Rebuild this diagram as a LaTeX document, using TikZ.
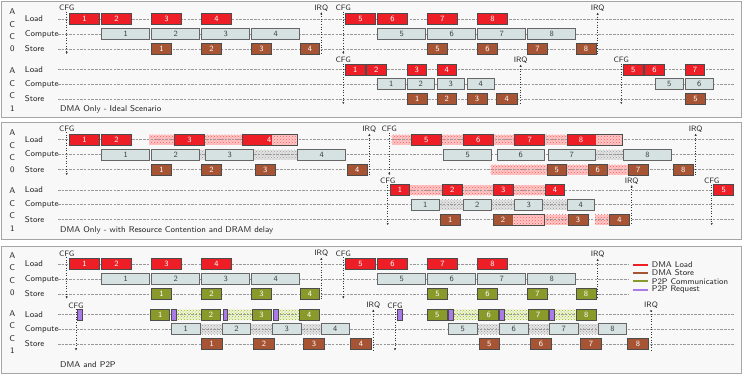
\documentclass[tikz,border=0pt]{standalone}
\usepackage{fontspec}
\usetikzlibrary{patterns,arrows.meta}
\definecolor{ldred}{RGB}{238,30,38}
\definecolor{cpfill}{RGB}{214,226,226}
\definecolor{stbrown}{RGB}{166,84,52}
\definecolor{ptgreen}{RGB}{138,154,42}
\definecolor{ptpurple}{RGB}{170,122,232}
\definecolor{panelbg}{RGB}{248,248,248}
\definecolor{panelbd}{RGB}{165,165,165}
\tikzset{
  lbl/.style={font=\fontsize{8}{8}\selectfont\sffamily, inner sep=0pt},
  box/.style={lbl, draw=black!70, line width=0.7pt, minimum height=11pt},
  frame/.style={draw=black!70, line width=0.7pt, minimum height=11pt, inner sep=0pt},
  ld/.style={box, fill=ldred, text=white},
  cp/.style={box, fill=cpfill, text=black!75, draw=black!60},
  st/.style={box, fill=stbrown, text=white},
  gr/.style={box, fill=ptgreen, text=white},
  pr/.style={box, fill=ptpurple},
  hr/.style={fill=red!22, postaction={pattern=crosshatch dots, pattern color=red!65}},
  hg/.style={fill=gray!22, postaction={pattern=crosshatch dots, pattern color=gray!75}},
  hy/.style={fill=yellow!40!green!15, postaction={pattern=crosshatch dots, pattern color=olive!60}},
  rowline/.style={gray!80, dash pattern=on 2.5pt off 1.2pt, line width=0.5pt},
  evt/.style={font=\fontsize{7.8}{8}\selectfont\sffamily, inner sep=0.8pt, text=black!85},
  cfgline/.style={dotted, line width=0.6pt, black!80, -{Stealth[length=2.2pt,width=2.2pt]}},
  irqline/.style={dotted, line width=0.6pt, black!80, {Stealth[length=2.2pt,width=2.2pt]}-},
  panel/.style={fill=panelbg, draw=panelbd, line width=0.9pt},
  acc/.style={align=center, font=\fontsize{8.4}{12.4}\selectfont\sffamily, inner sep=0pt, text=black!85},
  rl/.style={anchor=west, font=\fontsize{8.4}{9}\selectfont\sffamily, inner sep=0pt, text=black!85},
  ttl/.style={anchor=west, font=\fontsize{8.4}{9}\selectfont\sffamily, inner sep=0pt, text=black!85},
  lg/.style={anchor=west, font=\fontsize{8.3}{9}\selectfont\sffamily, inner sep=0pt, text=black!85},
  lgline/.style={line width=1.8pt},
}
\newcommand\Bx[6]{\pgfmathsetmacro\bw{#4-#3}\node[#1,minimum width=\bw pt,anchor=west] (#2) at (#3,#5) {#6};}
\newcommand\Hz[4]{\fill[#1] (#2,#4-5) rectangle (#3,#4+5);}
\newcommand\Mx[9]{%
  \fill[#2] (#5,#7-5.5) rectangle (#6,#7+5.5);
  \fill[#1] (#4,#7-5.5) rectangle (#5,#7+5.5);
  \pgfmathsetmacro\bw{#6-#4}%
  \node[frame,minimum width=\bw pt,anchor=west] (#3) at (#4,#7) {};
  \node[lbl,text=white] (#3t) at (#8,#7) {#9};}
\newcommand\EvC[5]{\node[evt] (#1) at (#2,#3) {CFG}; \coordinate (#1e) at (#2,#4); \draw[cfgline] (#1) -- (#1e);}
\newcommand\EvI[5]{\node[evt] (#1) at (#2,#3) {IRQ}; \coordinate (#1e) at (#2,#4); \draw[irqline] (#1) -- (#1e);}
\begin{document}
\begin{tikzpicture}[x=1pt,y=-1pt]
\useasboundingbox (0,0) rectangle (747,375);
\draw[panel] (1,1) rectangle (741,117.5);
\draw[panel] (1,122.5) rectangle (741,239);
\draw[panel] (1,246) rectangle (741,373.5);

% ================= PANEL 1 =================
\begin{scope}
\node[acc] (aA0) at (12.3,30.5) {A\\C\\C\\0};
\node[acc] (aA1) at (12.3,89.5) {A\\C\\C\\1};
\node[rl] (aR1) at (24.7,19) {Load};
\node[rl] (aR2) at (24.7,34) {Compute};
\node[rl] (aR3) at (24.7,49) {Store};
\node[rl] (aR4) at (24.7,69.5) {Load};
\node[rl] (aR5) at (24.7,84) {Compute};
\node[rl] (aR6) at (24.7,99) {Store};
\node[ttl] (aT) at (60,109) {DMA Only - Ideal Scenario};
\foreach \yy in {19,34,49,69.5,84,99} \draw[rowline] (58,\yy) -- (735,\yy);
% ACC0
\Bx{ld}{aL1}{69.3}{99}{19}{1}
\Bx{ld}{aL2}{101.3}{131}{19}{2}
\Bx{ld}{aL3}{151.3}{181}{19}{3}
\Bx{ld}{aL4}{201.3}{231}{19}{4}
\Bx{ld}{aL5}{345.3}{375}{19}{5}
\Bx{ld}{aL6}{377.3}{407}{19}{6}
\Bx{ld}{aL7}{427.3}{457}{19}{7}
\Bx{ld}{aL8}{477.3}{507}{19}{8}
\Bx{cp}{aC1}{101.3}{149.3}{34}{1}
\Bx{cp}{aC2}{151.3}{199.3}{34}{2}
\Bx{cp}{aC3}{201.3}{249.3}{34}{3}
\Bx{cp}{aC4}{251.3}{299.3}{34}{4}
\Bx{cp}{aC5}{377.3}{425.3}{34}{5}
\Bx{cp}{aC6}{427.3}{475.3}{34}{6}
\Bx{cp}{aC7}{477.3}{525.3}{34}{7}
\Bx{cp}{aC8}{527.3}{575.3}{34}{8}
\Bx{st}{aS1}{151.3}{171}{49}{1}
\Bx{st}{aS2}{201.3}{221}{49}{2}
\Bx{st}{aS3}{251.3}{271}{49}{3}
\Bx{st}{aS4}{299.8}{319.3}{49}{4}
\Bx{st}{aS5}{427.3}{447}{49}{5}
\Bx{st}{aS6}{477.3}{497}{49}{6}
\Bx{st}{aS7}{527.3}{547}{49}{7}
\Bx{st}{aS8}{576}{595.5}{49}{8}
\EvC{aF1}{66.7}{8}{54}{}
\EvI{aI1}{321.3}{8}{54}{}
\EvC{aF2}{343.3}{8}{54}{}
\EvI{aI2}{597.7}{8.5}{54}{}
% ACC1
\Bx{ld}{aM1}{345.3}{364.7}{69.5}{1}
\Bx{ld}{aM2}{366.3}{385.7}{69.5}{2}
\Bx{ld}{aM3}{406.7}{426}{69.5}{3}
\Bx{ld}{aM4}{436.7}{456}{69.5}{4}
\Bx{ld}{aM5}{623.3}{642.7}{69.5}{5}
\Bx{ld}{aM6}{644.3}{664}{69.5}{6}
\Bx{ld}{aM7}{685}{704.3}{69.5}{7}
\Bx{cp}{aD1}{377.3}{404.7}{84}{1}
\Bx{cp}{aD2}{406.7}{434.3}{84}{2}
\Bx{cp}{aD3}{436.7}{464.3}{84}{3}
\Bx{cp}{aD4}{466.7}{494.3}{84}{4}
\Bx{cp}{aD5}{655.3}{682.7}{84}{5}
\Bx{cp}{aD6}{685}{712.7}{84}{6}
\Bx{st}{aU1}{406.7}{427}{99}{1}
\Bx{st}{aU2}{436.7}{456.3}{99}{2}
\Bx{st}{aU3}{466.7}{486.7}{99}{3}
\Bx{st}{aU4}{496}{516.7}{99}{4}
\Bx{st}{aU5}{685}{705.3}{99}{5}
\EvC{aF3}{343.3}{60}{104}{}
\EvI{aI3}{520.7}{60.5}{104}{}
\EvC{aF4}{621.3}{60}{104}{}
\end{scope}

% ================= PANEL 2 =================
\begin{scope}[yshift=-120.5pt]
\node[acc] (bA0) at (12.3,31) {A\\C\\C\\0};
\node[acc] (bA1) at (12.3,89) {A\\C\\C\\1};
\node[rl] (bR1) at (24.7,19) {Load};
\node[rl] (bR2) at (24.7,34) {Compute};
\node[rl] (bR3) at (24.7,49) {Store};
\node[rl] (bR4) at (24.7,69.5) {Load};
\node[rl] (bR5) at (24.7,84) {Compute};
\node[rl] (bR6) at (24.7,99) {Store};
\node[ttl] (bT) at (60,110) {DMA Only - with Resource Contention and DRAM delay};
% hatches
\Hz{hr}{149.3}{174.3}{19}
\Hz{hr}{204}{241.7}{19}
\Hz{hr}{391.7}{411}{19}
\Hz{hr}{441}{462.7}{19}
\Hz{hr}{493.3}{514.3}{19}
\Hz{hr}{544.3}{566.7}{19}
\Hz{hg}{199.3}{205.3}{34}
\Hz{hg}{253.3}{297.3}{34}
\Hz{hg}{595}{623.3}{34}
\Hz{hr}{490.7}{546.7}{49}
\Hz{hr}{566}{587.7}{49}
\Hz{hr}{607.3}{628.3}{49}
\Hz{hr}{409.3}{442.3}{69.5}
\Hz{hr}{461.7}{493.3}{69.5}
\Hz{hr}{512.7}{545}{69.5}
\Hz{hg}{439}{463.3}{84}
\Hz{hg}{490.7}{514.3}{84}
\Hz{hg}{542.3}{566.7}{84}
\Hz{hr}{544.3}{567.7}{99}
\Hz{hr}{595}{609.3}{99}
\foreach \yy in {19,34,49,69.5,84,99} \draw[rowline] (58,\yy) -- (735,\yy);
% ACC0
\Bx{ld}{bL1}{69.3}{99}{19}{1}
\Bx{ld}{bL2}{101.3}{131}{19}{2}
\Bx{ld}{bL3}{174.3}{204}{19}{3}
\Mx{fill=ldred}{hr}{bL4}{241.7}{271.7}{296.7}{19}{269.3}{4}
\Bx{ld}{bL5}{411}{441}{19}{5}
\Bx{ld}{bL6}{462.7}{493.3}{19}{6}
\Bx{ld}{bL7}{514.3}{544.3}{19}{7}
\Mx{fill=ldred}{hr}{bL8}{566.7}{596}{621.7}{19}{581}{8}
\Bx{cp}{bC1}{101.3}{149.3}{34}{1}
\Bx{cp}{bC2}{151.3}{199.3}{34}{2}
\Bx{cp}{bC3}{205.3}{253.3}{34}{3}
\Bx{cp}{bC4}{297.3}{345.3}{34}{4}
\Bx{cp}{bC5}{443.3}{491.3}{34}{5}
\Bx{cp}{bC6}{496.7}{544.3}{34}{6}
\Bx{cp}{bC7}{547.7}{595}{34}{7}
\Bx{cp}{bC8}{623.3}{671}{34}{8}
\Bx{st}{bS1}{151.3}{171}{49}{1}
\Bx{st}{bS2}{201.3}{221}{49}{2}
\Bx{st}{bS3}{255.3}{274.7}{49}{3}
\Bx{st}{bS4}{347.3}{366.7}{49}{4}
\Bx{st}{bS5}{546.7}{566}{49}{5}
\Bx{st}{bS6}{587.7}{607.3}{49}{6}
\Bx{st}{bS7}{628.3}{647.7}{49}{7}
\Bx{st}{bS8}{673.3}{692.7}{49}{8}
\EvC{bF1}{66.7}{8}{54.5}{}
\EvI{bI1}{369.3}{9}{54.5}{}
\EvC{bF2}{389.3}{8.5}{54.5}{}
\EvI{bI2}{695.7}{9}{54.5}{}
% ACC1
\Bx{ld}{bM1}{390}{409.3}{69.5}{1}
\Bx{ld}{bM2}{442.3}{461.7}{69.5}{2}
\Bx{ld}{bM3}{493.3}{512.7}{69.5}{3}
\Bx{ld}{bM4}{545}{564.3}{69.5}{4}
\Bx{ld}{bM5}{713.3}{733.3}{69.5}{5}
\Bx{cp}{bD1}{411}{439}{84}{1}
\Bx{cp}{bD2}{463.3}{490.7}{84}{2}
\Bx{cp}{bD3}{514.3}{542.3}{84}{3}
\Bx{cp}{bD4}{566.7}{594.3}{84}{4}
\Bx{st}{bU1}{440}{460}{99}{1}
\Mx{fill=stbrown}{hr}{bU2}{492.7}{513.3}{544.3}{99}{503}{2}
\Bx{st}{bU3}{567.7}{587.7}{99}{3}
\Bx{st}{bU4}{609.3}{629}{99}{4}
\EvC{bF3}{387.7}{60.5}{104.5}{}
\EvI{bI3}{631.7}{60.5}{104.5}{}
\EvC{bF4}{711.7}{60.5}{104.5}{}
\end{scope}

% ================= PANEL 3 =================
\begin{scope}[yshift=-245pt]
\node[acc] (cA0) at (12.3,29) {A\\C\\C\\0};
\node[acc] (cA1) at (12.3,87) {A\\C\\C\\1};
\node[rl] (cR1) at (24.7,19) {Load};
\node[rl] (cR2) at (24.7,34) {Compute};
\node[rl] (cR3) at (24.7,49) {Store};
\node[rl] (cR4) at (24.7,69.5) {Load};
\node[rl] (cR5) at (24.7,84) {Compute};
\node[rl] (cR6) at (24.7,99) {Store};
\node[ttl] (cT) at (60,119.7) {DMA and P2P};
% hatches
\Hz{hy}{175.7}{201.3}{69.5}
\Hz{hy}{227}{251.7}{69.5}
\Hz{hy}{278}{299.3}{69.5}
\Hz{hy}{453.3}{478.3}{69.5}
\Hz{hy}{504}{528.3}{69.5}
\Hz{hy}{554.3}{576}{69.5}
\Hz{hg}{199.7}{222.3}{84}
\Hz{hg}{250}{272.3}{84}
\Hz{hg}{300.7}{321}{84}
\Hz{hg}{476.7}{499.3}{84}
\Hz{hg}{527.7}{549.3}{84}
\Hz{hg}{577.7}{598.3}{84}
\foreach \yy in {19,34,49} \draw[rowline] (58,\yy) -- (628.3,\yy);
\foreach \yy in {69.5,84,99} \draw[rowline] (58,\yy) -- (735,\yy);
% ACC0
\Bx{ld}{cL1}{69.3}{99}{19}{1}
\Bx{ld}{cL2}{101.3}{131}{19}{2}
\Bx{ld}{cL3}{151.3}{181}{19}{3}
\Bx{ld}{cL4}{201.3}{231}{19}{4}
\Bx{ld}{cL5}{345.3}{375}{19}{5}
\Bx{ld}{cL6}{377.3}{407}{19}{6}
\Bx{ld}{cL7}{427.3}{457}{19}{7}
\Bx{ld}{cL8}{477.3}{507}{19}{8}
\Bx{cp}{cC1}{101.3}{149.3}{34}{1}
\Bx{cp}{cC2}{151.3}{199.3}{34}{2}
\Bx{cp}{cC3}{201.3}{249.3}{34}{3}
\Bx{cp}{cC4}{251.3}{299.3}{34}{4}
\Bx{cp}{cC5}{377.3}{425.3}{34}{5}
\Bx{cp}{cC6}{427.3}{475.3}{34}{6}
\Bx{cp}{cC7}{477.3}{525.3}{34}{7}
\Bx{cp}{cC8}{527.3}{575.3}{34}{8}
\Bx{gr}{cS1}{151.3}{171}{49}{1}
\Bx{gr}{cS2}{201.3}{221}{49}{2}
\Bx{gr}{cS3}{251.3}{271}{49}{3}
\Bx{gr}{cS4}{299.8}{319.3}{49}{4}
\Bx{gr}{cS5}{427.3}{447}{49}{5}
\Bx{gr}{cS6}{477.3}{497}{49}{6}
\Bx{gr}{cS7}{527.3}{547}{49}{7}
\Bx{gr}{cS8}{576}{595.5}{49}{8}
\EvC{cF1}{66.7}{8.5}{53.5}{}
\EvI{cI1}{321.3}{8.5}{53.5}{}
\EvC{cF2}{343.3}{8.5}{53.5}{}
\EvI{cI2}{597.7}{9.5}{53.5}{}
% ACC1
\Bx{pr}{cP1}{77.3}{81.7}{69.5}{}
\Bx{pr}{cP2}{171.3}{175.7}{69.5}{}
\Bx{pr}{cP3}{222.7}{227}{69.5}{}
\Bx{pr}{cP4}{273.3}{278}{69.5}{}
\Bx{pr}{cP5}{397.3}{401.7}{69.5}{}
\Bx{pr}{cP6}{448.3}{453.3}{69.5}{}
\Bx{pr}{cP7}{499.3}{504}{69.5}{}
\Bx{pr}{cP8}{549.3}{554.3}{69.5}{}
\Bx{gr}{cM1}{150.3}{169.3}{69.5}{1}
\Bx{gr}{cM2}{201.3}{220}{69.5}{2}
\Bx{gr}{cM3}{251.7}{270.7}{69.5}{3}
\Bx{gr}{cM4}{299.3}{318.7}{69.5}{4}
\Bx{gr}{cM5}{427.3}{446.7}{69.5}{5}
\Bx{gr}{cM6}{478.3}{498.3}{69.5}{6}
\Bx{gr}{cM7}{528.3}{547.7}{69.5}{7}
\Bx{gr}{cM8}{576}{596}{69.5}{8}
\Bx{cp}{cD1}{171.3}{199.7}{84}{1}
\Bx{cp}{cD2}{222.3}{250}{84}{2}
\Bx{cp}{cD3}{272.3}{300.7}{84}{3}
\Bx{cp}{cD4}{321}{349}{84}{4}
\Bx{cp}{cD5}{448.3}{476.7}{84}{5}
\Bx{cp}{cD6}{499.3}{527.7}{84}{6}
\Bx{cp}{cD7}{549.3}{577.7}{84}{7}
\Bx{cp}{cD8}{598.3}{626}{84}{8}
\Bx{st}{cU1}{201.3}{221.7}{99}{1}
\Bx{st}{cU2}{253.3}{274}{99}{2}
\Bx{st}{cU3}{303.3}{324}{99}{3}
\Bx{st}{cU4}{350.3}{371}{99}{4}
\Bx{st}{cU5}{478.7}{499.3}{99}{5}
\Bx{st}{cU6}{530.3}{551}{99}{6}
\Bx{st}{cU7}{580.3}{601}{99}{7}
\Bx{st}{cU8}{627.3}{648}{99}{8}
\EvC{cF3}{76}{60.3}{105.3}{}
\EvI{cI3}{373.3}{60.3}{105.3}{}
\EvC{cF4}{395}{60.3}{105.3}{}
\EvI{cI4}{651}{60.3}{105.3}{}
% legend
\node[lg] (cG1) at (651.7,19.7) {DMA Load};
\node[lg] (cG2) at (651.7,28) {DMA Store};
\node[lg] (cG3) at (651.7,36.3) {P2P Communication};
\node[lg] (cG4) at (651.7,44.7) {P2P Request};
\draw[lgline, ldred] (633.3,19.7) -- (648.3,19.7);
\draw[lgline, stbrown] (633.3,28) -- (648.3,28);
\draw[lgline, ptgreen] (633.3,36.3) -- (648.3,36.3);
\draw[lgline, ptpurple] (633.3,44.7) -- (648.3,44.7);
\end{scope}
\end{tikzpicture}
\end{document}
